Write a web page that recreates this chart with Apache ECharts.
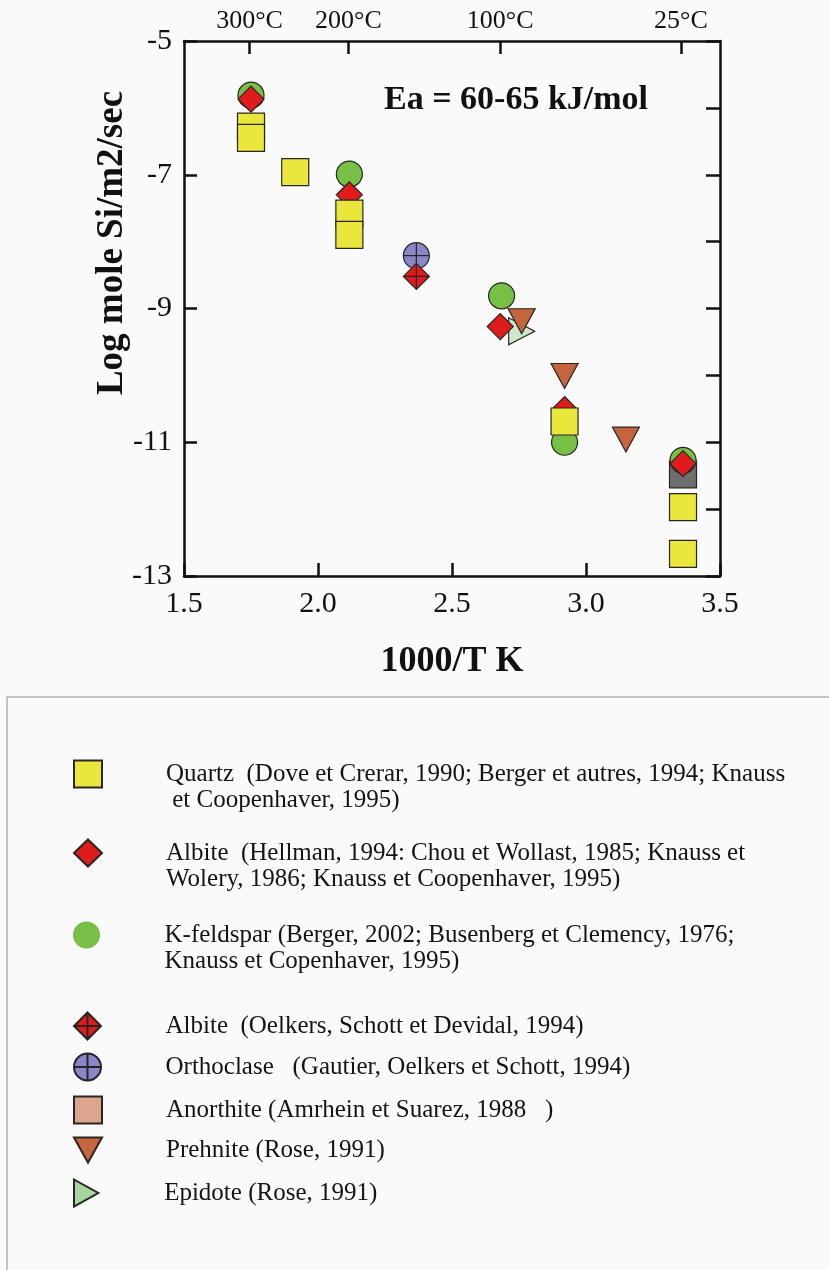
<!DOCTYPE html>
<html>
<head>
<meta charset="utf-8">
<script src="https://cdn.jsdelivr.net/npm/echarts@6/dist/echarts.min.js"></script>
<style>
html,body{margin:0;padding:0;background:#fbfafa;}
#chart{width:829px;height:1270px;}
</style>
</head>
<body>
<div id="chart"></div>
<script>
// ---- data (x = 1000/T K, y = log mole Si/m2/sec) ----
var quartz = [[1.75,-6.28],[1.75,-6.45],[1.915,-6.96],[2.117,-7.58],[2.117,-7.90],[2.92,-10.69],[3.362,-11.97],[3.362,-12.67]];
var albite = [[1.75,-5.87],[2.117,-7.30],[2.68,-9.27],[2.92,-10.51],[3.362,-11.32]];
var kfeldspar = [[1.75,-5.81],[2.117,-6.99],[2.685,-8.81],[2.92,-11.0],[3.362,-11.27]];
var albiteOelkers = [[2.367,-8.52]];
var orthoclase = [[2.367,-8.21]];
var anorthite = [[3.362,-11.48]];
var prehnite = [[2.76,-9.19],[2.92,-10.01],[3.149,-10.96]];
var epidote = [[2.76,-9.34]];

var xTicks = [1.5, 2.0, 2.5, 3.0, 3.5];
var yTicks = [-5, -7, -9, -11, -13];
var topTempsC = [300, 200, 100, 25];
var topTickLabels = ['300°C', '200°C', '100°C', '25°C'];

var legendNames = ['Quartz', 'Albite', 'K-feldspar', 'Albite (Oelkers)', 'Orthoclase', 'Anorthite', 'Prehnite', 'Epidote'];
var legendTexts = [
  'Quartz  (Dove et Crerar, 1990; Berger et autres, 1994; Knauss\n et Coopenhaver, 1995)',
  'Albite  (Hellman, 1994: Chou et Wollast, 1985; Knauss et\nWolery, 1986; Knauss et Coopenhaver, 1995)',
  'K-feldspar (Berger, 2002; Busenberg et Clemency, 1976;\nKnauss et Copenhaver, 1995)',
  'Albite  (Oelkers, Schott et Devidal, 1994)',
  'Orthoclase   (Gautier, Oelkers et Schott, 1994)',
  'Anorthite (Amrhein et Suarez, 1988   )',
  'Prehnite (Rose, 1991)',
  'Epidote (Rose, 1991)'
];

// ---- rendering ----
var SERIF = '"Liberation Serif","Times New Roman",serif';
var topTickValues = topTempsC.map(function (t) { return 1000 / (t + 273.15); });
var BORDER = '#262626';

var symbols = {
  diamondCross: 'path://M10,0 L20,10 L10,20 L0,10 Z M10,0 L10,20 M0,10 L20,10',
  circleCross: 'path://M0,10 A10,10 0 1,1 20,10 A10,10 0 1,1 0,10 Z M10,0 L10,20 M0,10 L20,10',
  triDown: 'path://M0,0 L20,0 L10,18 Z',
  triRight: 'path://M0,0 L18,10 L0,20 Z'
};

function sc(name, data, symbol, size, color, z) {
  return {
    type: 'scatter', name: name, data: data, symbol: symbol, symbolSize: size,
    z: z, xAxisIndex: 0, yAxisIndex: 0,
    itemStyle: { color: color, borderColor: BORDER, borderWidth: 1.2, opacity: 1 },
    emphasis: { disabled: true }
  };
}

var series = [
  sc('Anorthite', anorthite, 'rect', 27, '#6e6e6e', 2),
  sc('K-feldspar', kfeldspar, 'circle', 26, '#78bf46', 3),
  sc('Orthoclase', orthoclase, symbols.circleCross, 26, '#8a86c8', 4),
  sc('Epidote', epidote, symbols.triRight, [26, 27], '#cfe6c8', 5),
  sc('Albite', albite, 'diamond', 26, '#e01b1b', 6),
  sc('Albite (Oelkers)', albiteOelkers, symbols.diamondCross, 26, '#e01b1b', 7),
  sc('Prehnite', prehnite, symbols.triDown, [27, 25], '#c4653e', 8),
  sc('Quartz', quartz, 'rect', 27, '#ebe63c', 9)
];

var legendIconY = [774, 853, 935, 1025, 1066, 1109, 1150, 1192];
var legendOverrides = {
  'Anorthite': { color: '#dca58d' },
  'Epidote': { color: '#a8d59d' },
  'K-feldspar': { color: '#78bf46', borderWidth: 0 }
};
var LH = 26, IH = 27;
var legends = legendNames.map(function (nm, i) {
  var lines = legendTexts[i].split('\n').length;
  // a leading blank line per extra line keeps the first text line level with the icon
  var txt = new Array(lines).join('\n') + legendTexts[i];
  var H = (2 * lines - 1) * LH;
  var off = Math.max(0, H / 2 - IH / 2);
  var d = { name: nm };
  if (legendOverrides[nm]) d.itemStyle = legendOverrides[nm];
  return {
    data: [d], left: 73, top: legendIconY[i] - IH / 2 - off, orient: 'vertical',
    itemWidth: 28, itemHeight: IH, padding: 0, selectedMode: false,
    formatter: function () { return txt; },
    textStyle: { fontFamily: SERIF, fontSize: 25, lineHeight: LH, color: '#141414', padding: [0, 0, 0, 59] }
  };
});

var axisLineStyle = { color: '#111', width: 2.5 };

var option = {
  backgroundColor: '#fbfafa',
  animation: false,
  grid: { left: 184, right: 109, top: 41, bottom: 694 },
  legend: legends,
  xAxis: [{
    type: 'value', min: 1.5, max: 3.5, interval: 0.5, position: 'bottom',
    axisLine: { show: true, lineStyle: axisLineStyle },
    axisTick: { show: true, inside: true, length: 13, lineStyle: { color: '#111', width: 2.5 } },
    axisLabel: { fontFamily: SERIF, fontSize: 30, color: '#111', margin: 13,
      formatter: function (v) { return v.toFixed(1); } },
    splitLine: { show: false },
    name: '1000/T K', nameLocation: 'middle', nameGap: 68,
    nameTextStyle: { fontFamily: SERIF, fontSize: 36, fontWeight: 'bold', color: '#111' }
  }, {
    type: 'value', min: 1.5, max: 3.5, position: 'top',
    axisLine: { show: true, lineStyle: axisLineStyle },
    axisTick: { show: true, inside: true, length: 13, customValues: topTickValues, lineStyle: { color: '#111', width: 2.5 } },
    axisLabel: { show: true, fontFamily: SERIF, fontSize: 26, color: '#111', margin: 7, customValues: topTickValues,
      formatter: function (v) {
        var best = 0;
        for (var k = 0; k < topTickValues.length; k++) if (Math.abs(topTickValues[k] - v) < Math.abs(topTickValues[best] - v)) best = k;
        return topTickLabels[best];
      } },
    splitLine: { show: false }
  }],
  yAxis: [{
    type: 'value', min: -13, max: -5, interval: 2, position: 'left',
    axisLine: { show: true, lineStyle: axisLineStyle },
    axisTick: { show: true, inside: true, length: 13, lineStyle: { color: '#111', width: 2.5 } },
    axisLabel: { fontFamily: SERIF, fontSize: 30, color: '#111', margin: 12 },
    splitLine: { show: false }
  }, {
    type: 'value', min: -13, max: -5, interval: 1, position: 'right',
    axisLine: { show: true, lineStyle: axisLineStyle },
    axisTick: { show: true, inside: true, length: 14, lineStyle: { color: '#111', width: 2.5 } },
    axisLabel: { show: false },
    splitLine: { show: false }
  }],
  graphic: [
    { type: 'text', x: 112, y: 243, rotation: Math.PI / 2, z: 10,
      style: { text: 'Log mole Si/m2/sec', font: 'bold 37px ' + SERIF, fill: '#111', textAlign: 'center', textVerticalAlign: 'middle' } },
    { type: 'text', x: 516, y: 100, z: 10,
      style: { text: 'Ea = 60-65 kJ/mol', font: 'bold 34px ' + SERIF, fill: '#111', textAlign: 'center', textVerticalAlign: 'middle' } },
    { type: 'rect', z: 0, shape: { x: 7, y: 697, width: 830, height: 580 },
      style: { fill: 'none', stroke: '#8a8a8a', lineWidth: 1 } }
  ],
  series: series
};

var chart = echarts.init(document.getElementById('chart'), null, { renderer: 'canvas' });
chart.setOption(option);
</script>
</body>
</html>
